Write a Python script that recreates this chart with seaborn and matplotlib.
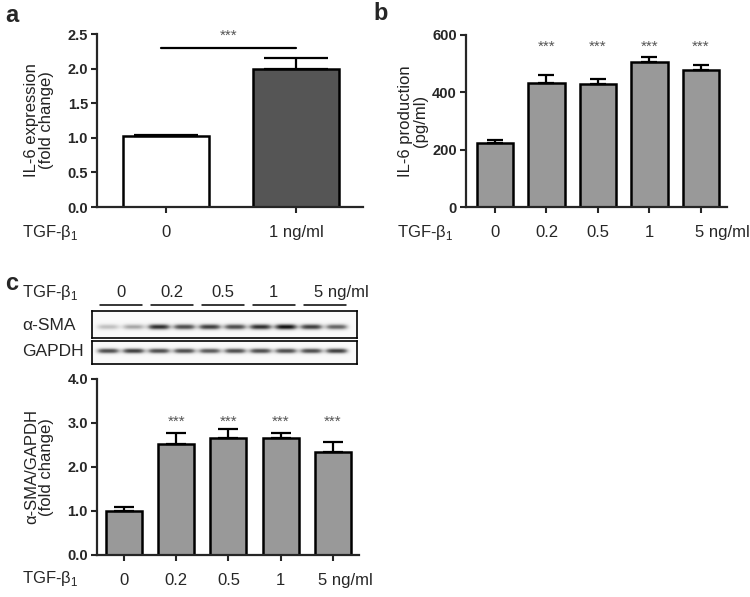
import numpy as np
import seaborn as sns
import matplotlib.pyplot as plt
from matplotlib.transforms import ScaledTranslation, blended_transform_factory

sns.set_style("ticks")
plt.rcParams['font.family'] = ['Liberation Sans', 'DejaVu Sans']
plt.rcParams['mathtext.fontset'] = 'custom'
plt.rcParams['mathtext.rm'] = 'Liberation Sans'

# panel a: IL-6 mRNA
a_doses = ['0', '1 ng/ml']
a_mean = [1.02, 2.00]
a_sem = [0.02, 0.16]

# panel b: IL-6 protein
b_doses = ['0', '0.2', '0.5', '1', '5 ng/ml']
b_mean = [224, 434, 429, 507, 477]
b_sem = [9, 26, 16, 15, 18]
b_sig = ['', '***', '***', '***', '***']

# panel c: a-SMA / GAPDH
c_doses = ['0', '0.2', '0.5', '1', '5 ng/ml']
c_mean = [1.00, 2.52, 2.67, 2.67, 2.35]
c_sem = [0.09, 0.25, 0.20, 0.10, 0.21]
c_sig = ['', '***', '***', '***', '***']

# western blot band strength per lane (2 lanes per dose)
sma_band = [0.35, 0.45, 0.9, 0.8, 0.85, 0.8, 0.9, 1.0, 0.85, 0.7]
gapdh_band = [0.8, 0.85, 0.8, 0.8, 0.75, 0.8, 0.8, 0.8, 0.8, 0.85]

W, H = 750, 597
fig = plt.figure(figsize=(W / 100, H / 100), dpi=100)

ann = fig.add_axes([0, 0, 1, 1])
ann.set_xlim(0, W)
ann.set_ylim(H, 0)
ann.axis('off')


def px_axes(l, t, r, b):
    return fig.add_axes([l / W, 1 - b / H, (r - l) / W, (b - t) / H])


def bar_panel(ax, doses, mean, sem, colors, width, cap, ylim, yticks, fmt, ylabel, label_right, last_dx):
    sns.barplot(x=doses, y=mean, order=doses, hue=doses, palette=colors, legend=False,
                edgecolor='black', linewidth=1.8, width=width, ax=ax, errorbar=None)
    n = len(doses)
    ax.errorbar(range(n), mean, yerr=[np.zeros(n), sem], fmt='none', ecolor='black',
                elinewidth=1.6, capsize=cap, capthick=1.6, zorder=5)
    ax.set_ylim(*ylim)
    ax.set_yticks(yticks)
    ax.set_yticklabels([fmt.format(v) for v in yticks], fontweight='bold')
    sns.despine(ax=ax)
    for s in ['left', 'bottom']:
        ax.spines[s].set_linewidth(1.6)
    ax.tick_params(axis='y', length=4, width=1.5, labelsize=10.5, pad=2.5)
    ax.tick_params(axis='x', length=4, width=1.5, labelsize=12, pad=9)
    ax.set_xlabel('')
    ax.set_ylabel(ylabel, fontsize=12, color='#222222', linespacing=1.0)
    wpx = ax.get_position().width * W
    l = ax.get_position().x0 * W
    ax.yaxis.set_label_coords((label_right - l) / wpx, 0.5)
    lbl = ax.get_xticklabels()[-1]
    if last_dx is not None:
        lbl.set_ha('left')
        lbl.set_transform(lbl.get_transform() + ScaledTranslation(last_dx / 100, 0, fig.dpi_scale_trans))


# ---- a ----
ax_a = px_axes(97, 34, 363, 207)
bar_panel(ax_a, a_doses, a_mean, a_sem, ['white', '#555555'], 0.66, 23,
          (0, 2.5), [0, 0.5, 1.0, 1.5, 2.0, 2.5], '{:.1f}',
          'IL-6 expression\n(fold change)', 54, None)
ax_a.set_xlim(-0.53, 1.515)
ax_a.plot([-0.04, 1.0], [2.30, 2.30], color='black', lw=1.6, clip_on=False)
ax_a.text(0.48, 2.47, '***', ha='center', va='center', fontsize=11, color='#555555')

# ---- b ----
ax_b = px_axes(466, 35, 727, 207)
bar_panel(ax_b, b_doses, b_mean, b_sem, ['#999999'] * 5, 0.70, 6,
          (0, 600), [0, 200, 400, 600], '{:d}',
          'IL-6 production\n(pg/ml)', 428, -6)
ax_b.set_xlim(-0.563, 4.505)
for i, s in enumerate(b_sig):
    ax_b.text(i, 560, s, ha='center', va='center', fontsize=11, color='#555555')

# ---- c: bars ----
ax_c = px_axes(97, 379, 359, 555)
bar_panel(ax_c, c_doses, c_mean, c_sem, ['#999999'] * 5, 0.69, 7,
          (0, 4), [0, 1, 2, 3, 4], '{:.1f}',
          'α-SMA/GAPDH\n(fold change)', 54, -15)
ax_c.set_xlim(-0.517, 4.50)
for i, s in enumerate(c_sig):
    ax_c.text(i, 3.02, s, ha='center', va='center', fontsize=11, color='#555555')

# ---- c: blot ----
def blot(ax, bands, yc, sig):
    xs = np.linspace(-0.63, 9.79, 500)
    ys = np.linspace(0, 1, 60)
    X, Y = np.meshgrid(xs, ys)
    img = np.zeros_like(X)
    for i, a in enumerate(bands):
        img += a * np.exp(-((X - i) / 0.45) ** 4) * np.exp(-((Y - yc) / sig) ** 2)
    ax.imshow(img, cmap='Greys', vmin=-0.05, vmax=1.05, extent=[-0.63, 9.79, 1, 0],
              aspect='auto', interpolation='bilinear')
    ax.set_xlim(-0.63, 9.79)
    ax.set_ylim(1, 0)
    ax.set_xticks([])
    ax.set_yticks([])
    for s in ax.spines.values():
        s.set_visible(True)
        s.set_linewidth(1.2)
        s.set_color('black')


ax_sma = px_axes(92, 311, 357, 338)
blot(ax_sma, sma_band, 0.59, 0.11)
ax_gap = px_axes(92, 341, 357, 364)
blot(ax_gap, gapdh_band, 0.43, 0.12)

tr = blended_transform_factory(ax_sma.transData, ax_sma.transAxes)
for k, d in enumerate(c_doses):
    ax_sma.plot([2 * k - 0.3, 2 * k + 1.35], [1.22, 1.22], color='black', lw=1.1,
                transform=tr, clip_on=False)
    if k == len(c_doses) - 1:
        ax_sma.text(2 * k + 0.1, 1.67, d, ha='left', va='center', fontsize=12, transform=tr)
    else:
        ax_sma.text(2 * k + 0.5, 1.67, d, ha='center', va='center', fontsize=12, transform=tr)

# ---- figure text ----
for x, y, t in [(5, 16, 'a'), (373, 14, 'b'), (5, 284, 'c')]:
    ann.text(x, y, t, fontsize=17, fontweight='bold', va='center', ha='left')
for x, y in [(22, 233), (397, 233), (22, 293), (22, 578)]:
    ann.text(x, y, 'TGF-β$_1$', fontsize=12, va='center', ha='left')
ann.text(22, 325, 'α-SMA', fontsize=12.5, va='center', ha='left')
ann.text(22, 352, 'GAPDH', fontsize=12.5, va='center', ha='left')

fig.savefig('out.png', dpi=100)
